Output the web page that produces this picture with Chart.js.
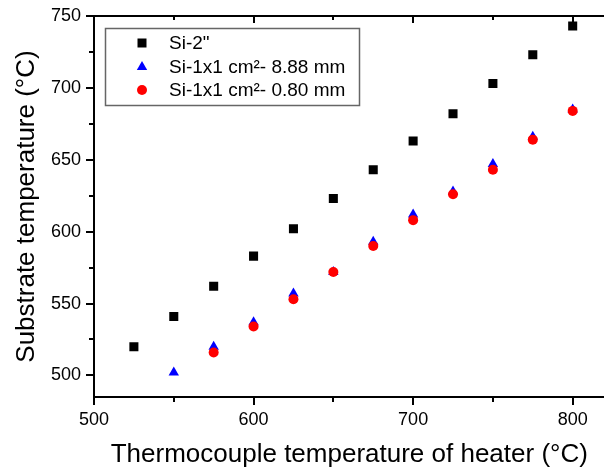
<!DOCTYPE html>
<html>
<head>
<meta charset="utf-8">
<script src="https://cdn.jsdelivr.net/npm/chart.js"></script>
<style>
  html, body { margin: 0; padding: 0; background: #fff; overflow: hidden; }
  #wrap { width: 611px; height: 472px; }
</style>
</head>
<body>
<div id="wrap"><canvas id="grafico"></canvas></div>
<script>
// heater thermocouple temperature (x) vs substrate temperature (y)
const xSi2 = [525, 550, 575, 600, 625, 650, 675, 700, 725, 750, 775, 800]
const ySi2 = [520, 541, 562, 583, 602, 623, 643, 663, 682, 703, 723, 743]
const xThick = [550, 575, 600, 625, 650, 675, 700, 725, 750, 775, 800]
const yThick = [502, 520, 537, 557, 572, 593, 612, 628, 647, 666, 685]
const xThin = [575, 600, 625, 650, 675, 700, 725, 750, 775, 800]
const yThin = [516, 534, 553, 572, 590, 608, 626, 643, 664, 684]
const etiquetas = ['Si-2"', 'Si-1x1 cm²- 8.88 mm', 'Si-1x1 cm²- 0.80 mm']

const fuente = "'Liberation Sans', Arial, sans-serif"

function puntos(xs, ys) {
   return xs.map((x, i) => ({ x: x, y: ys[i] }))
}

function marcador(ctx, estilo, color, x, y) {
   ctx.fillStyle = color
   ctx.beginPath()
   if (estilo === 'rect') {
      ctx.rect(x - 4.5, y - 4.5, 9, 9)
   } else if (estilo === 'triangle') {
      const r = 6
      ctx.moveTo(x, y - r)
      ctx.lineTo(x + r * Math.sin(2 * Math.PI / 3), y - r * Math.cos(2 * Math.PI / 3))
      ctx.lineTo(x + r * Math.sin(4 * Math.PI / 3), y - r * Math.cos(4 * Math.PI / 3))
      ctx.closePath()
   } else {
      ctx.arc(x, y, 5, 0, Math.PI * 2)
   }
   ctx.fill()
}

// frame on top, tick marks (major + minor) and the legend box
const marco = {
   id: 'marco',
   afterDraw(chart) {
      const c = chart.ctx
      const a = chart.chartArea
      const sx = chart.scales.x
      const sy = chart.scales.y
      c.save()
      c.strokeStyle = '#000'
      c.lineWidth = 2
      c.beginPath()
      c.moveTo(a.left - 1, a.top)
      c.lineTo(a.right + 2, a.top)
      c.stroke()
      for (let v = Math.ceil(sx.min / 50) * 50; v <= sx.max; v += 50) {
         const px = Math.round(sx.getPixelForValue(v))
         const largo = v % 100 ? 5 : 8
         c.beginPath()
         c.moveTo(px, a.bottom)
         c.lineTo(px, a.bottom + largo)
         if (v > sx.min) {
            c.moveTo(px, a.top)
            c.lineTo(px, a.top + largo - 1)
         }
         c.stroke()
      }
      for (let v = Math.ceil(sy.min / 25) * 25; v <= sy.max; v += 25) {
         const py = Math.round(sy.getPixelForValue(v))
         const largo = v % 50 ? 5 : 8
         c.beginPath()
         c.moveTo(a.left, py)
         c.lineTo(a.left - largo, py)
         c.stroke()
      }

      // legend
      c.strokeStyle = '#666'
      c.lineWidth = 1.5
      c.strokeRect(105.5, 28.5, 254, 77)
      const estilos = ['rect', 'triangle', 'circle']
      const colores = ['#000', '#0000ff', '#ff0000']
      const filas = [43, 67, 90]
      c.font = '19px ' + fuente
      c.textBaseline = 'middle'
      etiquetas.forEach((txt, i) => {
         marcador(c, estilos[i], colores[i], 142, filas[i])
         c.fillStyle = '#000'
         c.fillText(txt, 169, filas[i] + 1)
      })
      c.restore()
   }
}

const ctx = document.getElementById('grafico').getContext('2d')
const myChart = new Chart(ctx, {
   type: 'scatter',
   data: {
      datasets: [
         {
            label: etiquetas[0],
            data: puntos(xSi2, ySi2),
            pointStyle: 'rect',
            pointRadius: 6.4,
            pointBorderWidth: 0,
            backgroundColor: '#000',
            borderColor: '#000',
            order: 3
         },
         {
            label: etiquetas[1],
            data: puntos(xThick, yThick),
            pointStyle: 'triangle',
            pointRadius: 6,
            pointBorderWidth: 0,
            backgroundColor: '#0000ff',
            borderColor: '#0000ff',
            order: 2
         },
         {
            label: etiquetas[2],
            data: puntos(xThin, yThin),
            pointStyle: 'circle',
            pointRadius: 5,
            pointBorderWidth: 0,
            backgroundColor: '#ff0000',
            borderColor: '#ff0000',
            order: 1
         }
      ]
   },
   options: {
      responsive: true,
      maintainAspectRatio: false,
      animation: false,
      events: [],
      layout: { padding: { top: 16, right: 0, left: 0, bottom: 0 } },
      plugins: {
         legend: { display: false },
         tooltip: { enabled: false }
      },
      scales: {
         x: {
            type: 'linear',
            min: 500,
            max: 820,
            grid: { display: false, drawTicks: false },
            border: { color: '#000', width: 2 },
            ticks: {
               stepSize: 50,
               includeBounds: false,
               autoSkip: false,
               maxRotation: 0,
               maxTicksLimit: 20,
               padding: 12,
               color: '#000',
               font: { family: fuente, size: 18 },
               callback: v => (v % 100 === 0 ? v : '')
            },
            title: {
               display: true,
               text: 'Thermocouple temperature of heater (°C)',
               color: '#000',
               font: { family: fuente, size: 26 },
               padding: { top: 0, bottom: 2 }
            },
            afterFit: s => {
               s.height = 75
               s.paddingLeft = 0
               s.paddingRight = 0
            }
         },
         y: {
            type: 'linear',
            min: 485,
            max: 750,
            grid: { display: false, drawTicks: false },
            border: { color: '#000', width: 2 },
            ticks: {
               stepSize: 25,
               includeBounds: false,
               autoSkip: false,
               maxTicksLimit: 20,
               padding: 13,
               color: '#000',
               font: { family: fuente, size: 18 },
               callback: v => (v % 50 === 0 ? v : '')
            },
            title: {
               display: true,
               text: 'Substrate temperature (°C)',
               color: '#000',
               font: { family: fuente, size: 26 },
               padding: { top: 11, bottom: 0 }
            },
            afterFit: s => {
               s.width = 94
               s.paddingTop = 0
               s.paddingBottom = 0
            }
         }
      }
   },
   plugins: [marco]
})
</script>
</body>
</html>
